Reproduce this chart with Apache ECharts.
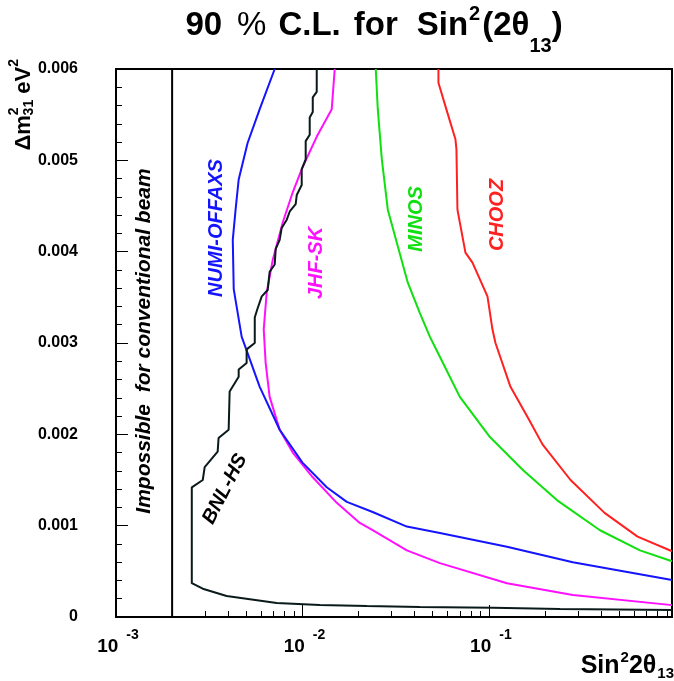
<!DOCTYPE html>
<html>
<head>
<meta charset="utf-8">
<title>90 % C.L. for Sin2(2θ13)</title>
<script src="https://cdn.jsdelivr.net/npm/echarts@6.0.0/dist/echarts.min.js"></script>
<style>
  html, body { margin: 0; padding: 0; background: #fff; }
  #chart { width: 674px; height: 681px; }
</style>
</head>
<body>
<div id="chart"></div>
<script>
// axes
var xMin = 0.001, xMax = 0.96
var xMajorTicks = [0.001, 0.01, 0.1]
var xMinorTicks = [0.002, 0.003, 0.004, 0.005, 0.006, 0.007, 0.008, 0.009,
    0.02, 0.03, 0.04, 0.05, 0.06, 0.07, 0.08, 0.09,
    0.2, 0.3, 0.4, 0.5, 0.6, 0.7, 0.8, 0.9]
var yMin = 0, yMax = 0.006, yStep = 0.001
var impossibleX = 0.002

// contours [sin^2 2theta13, dm^2_31]
var numiOffaxs = [[0.0071, 0.006], [0.0059, 0.00556], [0.00508, 0.00519], [0.00455, 0.00479],
    [0.00438, 0.00446], [0.00423, 0.00413], [0.00428, 0.00359], [0.00472, 0.00307],
    [0.0059, 0.00252], [0.00755, 0.00205], [0.0100, 0.00169], [0.0135, 0.00142],
    [0.0173, 0.00126], [0.0238, 0.00115], [0.0363, 0.00099], [0.0546, 0.00092],
    [0.125, 0.00077], [0.282, 0.0006], [0.96, 0.000405]]

var jhfSk = [[0.0149, 0.006], [0.01436, 0.00556], [0.01194, 0.00526], [0.01004, 0.00493],
    [0.00887, 0.00465], [0.00784, 0.00432], [0.00693, 0.00391], [0.00643, 0.00355],
    [0.0062, 0.00315], [0.00635, 0.00278], [0.00667, 0.00241], [0.00755, 0.00205],
    [0.00887, 0.0018], [0.01136, 0.00153], [0.01528, 0.00125], [0.0203, 0.00103],
    [0.0238, 0.00095], [0.0363, 0.00073], [0.0546, 0.00059], [0.125, 0.00037],
    [0.282, 0.00024], [0.96, 0.00013]]

var minos = [[0.02473, 0.006], [0.02536, 0.00556], [0.02666, 0.00501], [0.0287, 0.00446],
    [0.03247, 0.00406], [0.03674, 0.00366], [0.0426, 0.00333], [0.04822, 0.00307],
    [0.05458, 0.00285], [0.06987, 0.00241], [0.1013, 0.00197], [0.1522, 0.00161],
    [0.2317, 0.00128], [0.3944, 0.00095], [0.6463, 0.00073], [0.96, 0.00061]]

var chooz = [[0.05364, 0.006], [0.05364, 0.00585], [0.05995, 0.00552], [0.06618, 0.00523],
    [0.067, 0.00512], [0.06783, 0.00446], [0.07488, 0.00399], [0.08166, 0.00388],
    [0.09829, 0.00351], [0.1045, 0.00315], [0.1085, 0.003], [0.1306, 0.00252],
    [0.1612, 0.00219], [0.1939, 0.00189], [0.2742, 0.0015], [0.4174, 0.00114],
    [0.6276, 0.00088], [0.96, 0.00072]]

var bnlHs = [[0.01193, 0.006], [0.01193, 0.00575], [0.01136, 0.00569], [0.01136, 0.00553],
    [0.01094, 0.00547], [0.01094, 0.00528], [0.01041, 0.00521], [0.01041, 0.00501],
    [0.00991, 0.0049], [0.00991, 0.00473], [0.00932, 0.00462], [0.0092, 0.00452],
    [0.00855, 0.00444], [0.00824, 0.00435], [0.00774, 0.00426], [0.00755, 0.00413],
    [0.00719, 0.00403], [0.0071, 0.00386], [0.00667, 0.00378], [0.00651, 0.00358],
    [0.00605, 0.00351], [0.00575, 0.00338], [0.00555, 0.00328], [0.00555, 0.003],
    [0.00502, 0.00293], [0.00502, 0.00278], [0.00455, 0.00271], [0.00455, 0.00263],
    [0.00407, 0.00247], [0.00402, 0.00205], [0.00355, 0.00196], [0.00351, 0.00181],
    [0.00299, 0.00164], [0.00292, 0.0015], [0.00255, 0.00142], [0.00255, 0.00037],
    [0.00292, 0.00031], [0.00392, 0.00023], [0.00728, 0.000153], [0.01239, 0.000132],
    [0.02214, 0.000121], [0.0426, 0.00011], [0.1051, 0.0001], [0.2405, 0.000088],
    [0.96, 0.000077]]

var font = '"Liberation Sans", Arial, Helvetica, sans-serif'
var chart = echarts.init(document.getElementById('chart'))

function curve(name, data, color) {
    return {
        name: name, type: 'line', data: data,
        symbol: 'none', showSymbol: false, smooth: false,
        lineStyle: { color: color, width: 2 },
        itemStyle: { color: color },
        z: 3
    }
}

// rich text piece, every piece top aligned and pushed down with padding
function txt(size, weight, padTop, padLeft) {
    return {
        fontFamily: font, fontSize: size, fontWeight: weight, color: '#000',
        lineHeight: size, verticalAlign: 'top', padding: [padTop, 0, 0, padLeft || 0]
    }
}

function tag(text, x, y, color, angle, size) {
    return {
        type: 'text', x: x, y: y, rotation: angle * Math.PI / 180, z: 10,
        style: {
            text: text, fill: color, textAlign: 'center', textVerticalAlign: 'middle',
            font: 'italic bold ' + (size || 20) + 'px ' + font
        }
    }
}

var option = {
    animation: false,
    backgroundColor: '#fff',
    title: {
        text: '{a|90}{p|%}{c|C.L.}{f|for}{g|Sin}{s|2}{h|(2θ}{u|13}{a|)}',
        left: 374, top: 0, padding: 0, textAlign: 'center', textVerticalAlign: 'top',
        textStyle: {
            rich: {
                a: txt(33, 'bold', 9),
                p: txt(33, 'normal', 9, 15),
                c: txt(33, 'bold', 9, 12),
                f: txt(33, 'bold', 9, 13),
                g: txt(33, 'bold', 9, 19),
                h: txt(33, 'bold', 9, 2),
                s: txt(20, 'bold', 4, 1),
                u: txt(20, 'bold', 36, 0)
            }
        }
    },
    grid: { left: 116, right: 2, top: 69, bottom: 64, show: true, borderColor: '#000', borderWidth: 2 },
    xAxis: [{
        type: 'log', logBase: 10, min: xMin, max: xMax, position: 'bottom',
        axisLine: { show: true, onZero: false, lineStyle: { color: '#000', width: 2 } },
        axisTick: { show: true, inside: true, length: 12, customValues: xMajorTicks, lineStyle: { color: '#000', width: 1 } },
        axisLabel: {
            customValues: xMajorTicks, margin: 10,
            formatter: function (v) { return '{b|10}{e|' + Math.round(Math.log10(v)) + '}' },
            rich: {
                b: txt(19, 'bold', 10, 4),
                e: txt(14, 'bold', 1, 8)
            }
        },
        splitLine: { show: false }
    }, {
        type: 'log', logBase: 10, min: xMin, max: xMax, position: 'bottom',
        axisLine: { show: false },
        axisTick: { show: true, inside: true, length: 6, customValues: xMinorTicks, lineStyle: { color: '#000', width: 1 } },
        axisLabel: { show: false },
        splitLine: { show: false }
    }],
    yAxis: {
        type: 'value', min: yMin, max: yMax, interval: yStep,
        axisLine: { show: true, lineStyle: { color: '#000', width: 2 } },
        axisTick: { show: true, inside: true, length: 12, lineStyle: { color: '#000', width: 1 } },
        minorTick: { show: true, splitNumber: 5, length: 6, lineStyle: { color: '#000', width: 1 } },
        axisLabel: {
            margin: 38, fontFamily: font, fontWeight: 'bold', fontSize: 16, color: '#000',
            formatter: function (v) { return v === 0 ? '0' : v.toFixed(3) }
        },
        splitLine: { show: false }
    },
    series: [
        curve('impossible', [[impossibleX, yMin], [impossibleX, yMax]], '#000'),
        curve('CHOOZ', chooz, '#ff2020'),
        curve('MINOS', minos, '#10e010'),
        curve('JHF-SK', jhfSk, '#ff10ff'),
        curve('NUMI-OFFAXS', numiOffaxs, '#1414ff'),
        curve('BNL-HS', bnlHs, '#0a1a1a')
    ],
    graphic: [
        {
            // y axis title, rotated, sub/sup stacked
            type: 'text', x: 3, y: 59, rotation: Math.PI / 2,
            style: {
                text: '{m|Δm}{s|2}{u|31}{m| eV}{s|2}', textAlign: 'right', textVerticalAlign: 'top',
                rich: {
                    m: txt(22, 'bold', 10),
                    s: txt(14, 'bold', 4),
                    u: txt(14, 'bold', 19, -8)
                }
            }
        },
        {
            type: 'text', x: 674, y: 644,
            style: {
                text: '{m|Sin}{s|2}{m|2θ}{u|13}', textAlign: 'right', textVerticalAlign: 'top',
                rich: {
                    m: txt(25, 'bold', 10),
                    s: txt(15, 'bold', 6, 1),
                    u: txt(15, 'bold', 22, 1)
                }
            }
        },
        tag('Impossible  for conventional beam', 144, 341, '#000', 90, 21),
        tag('NUMI-OFFAXS', 216, 228, '#1414ff', 90),
        tag('JHF-SK', 316, 263, '#ff10ff', 90),
        tag('MINOS', 416, 219, '#10e010', 90),
        tag('CHOOZ', 497, 215, '#ff2020', 90),
        tag('BNL-HS', 225, 489, '#000', 63)
    ]
}

chart.setOption(option)
</script>
</body>
</html>
